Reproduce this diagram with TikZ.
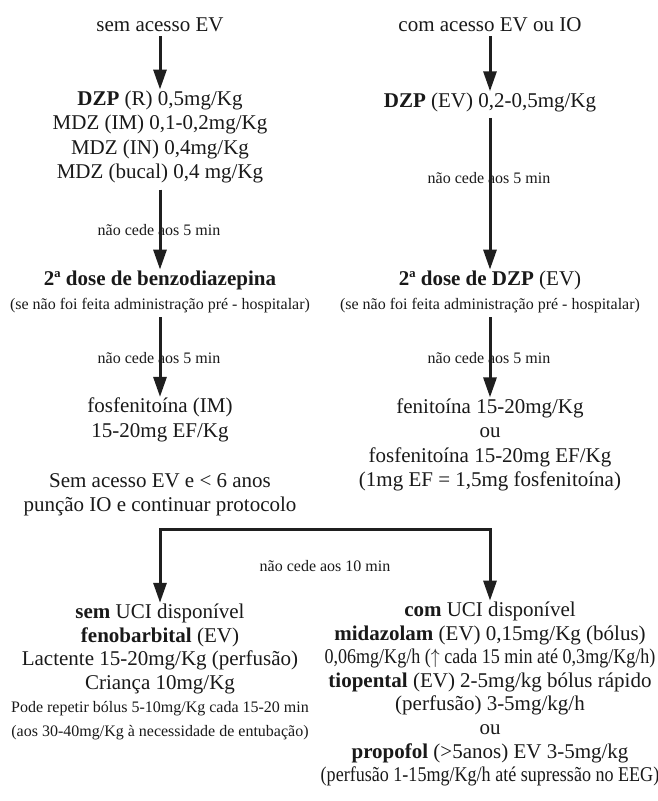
\documentclass[tikz,border=0pt]{standalone}
\usepackage{fontspec}
\setmainfont{Liberation Serif}
\usepackage{graphicx}
\usetikzlibrary{arrows.meta,positioning}

\newcommand{\nota}[1]{{\fontsize{16}{18}\selectfont #1}}
\newcommand{\aperta}[1]{\scalebox{0.86}[1]{#1}}

\begin{document}
\begin{tikzpicture}[
		x=1pt, y=-1pt,
		txt/.style={align=center, inner sep=1pt, text=black!90, font=\fontsize{21}{24.5}\selectfont},
		txtb/.style={txt, font=\fontsize{21}{23.6}\selectfont},
		lbl/.style={inner sep=0pt, text=black!90, font=\fontsize{16}{18}\selectfont},
		arrow/.style={-{Triangle[length=20pt,width=13pt]}, line width=3pt, draw=black!88}
	]
		\useasboundingbox (0,0) rectangle (658,801);
		% ramo sem acesso
		\node[txt] (semEV) at (160,25) {sem acesso EV};
		\node[txt] (bzdL) at (160,137) {\textbf{DZP} (R) 0,5mg/Kg\\MDZ (IM) 0,1-0,2mg/Kg\\MDZ (IN) 0,4mg/Kg\\MDZ (bucal) 0,4 mg/Kg};
		\node[txt] (dose2L) at (160,292) {\textbf{2ª dose de benzodiazepina}\\\nota{(se não foi feita administração pré - hospitalar)}};
		\node[txt] (fosL) at (160,420) {fosfenitoína (IM)\\15-20mg EF/Kg};
		\node[txtb] (ioL) at (160,495) {Sem acesso EV e < 6 anos\\punção IO e continuar protocolo};
		% ramo com acesso
		\node[txt] (comEV) at (490,25) {com acesso EV ou IO};
		\node[txt] (dzpEV) at (490,102) {\textbf{DZP} (EV) 0,2-0,5mg/Kg};
		\node[txt] (dose2R) at (490,292) {\textbf{2ª dose de DZP} (EV)\\\nota{(se não foi feita administração pré - hospitalar)}};
		\node[txt] (feniR) at (490,445) {fenitoína 15-20mg/Kg\\ou\\fosfenitoína 15-20mg EF/Kg\\(1mg EF = 1,5mg fosfenitoína)};
		% UCI
		\node[txtb] (semUCI) at (160,672) {\textbf{sem} UCI disponível\\\textbf{fenobarbital} (EV)\\Lactente 15-20mg/Kg (perfusão)\\Criança 10mg/Kg\\\nota{Pode repetir bólus 5-10mg/Kg cada 15-20 min}\\\nota{(aos 30-40mg/Kg à necessidade de entubação)}};
		\node[txtb] (comUCI) at (490,694) {\textbf{com} UCI disponível\\\textbf{midazolam} (EV) 0,15mg/Kg (bólus)\\\aperta{0,06mg/Kg/h ($\uparrow$ cada 15 min até 0,3mg/Kg/h)}\\\textbf{tiopental} (EV) 2-5mg/kg bólus rápido\\(perfusão) 3-5mg/kg/h\\ou\\\textbf{propofol} (>5anos) EV 3-5mg/kg\\\aperta{(perfusão 1-15mg/Kg/h até supressão no EEG)}};
		% legendas
		\node[lbl] (cedeL1) at (159,230) {não cede aos 5 min};
		\node[lbl] (cedeR1) at (489,178) {não cede aos 5 min};
		\node[lbl] (cedeL2) at (159,358) {não cede aos 5 min};
		\node[lbl] (cedeR2) at (489,358) {não cede aos 5 min};
		\node[lbl] (cede10) at (325,566) {não cede aos 10 min};
		\coordinate (split) at (325,529);
		% setas
		\draw[arrow, shorten <=3pt] (semEV) -- (bzdL);
		\draw[arrow, shorten <=5pt] (bzdL) -- (dose2L);
		\draw[arrow, shorten <=3pt] (dose2L) -- (fosL);
		\draw[arrow, shorten <=3pt] (comEV) -- (dzpEV);
		\draw[arrow, shorten <=5pt] (dzpEV) -- (dose2R);
		\draw[arrow, shorten <=3pt] (dose2R) -- (feniR);
		\draw[arrow] (split) -| (semUCI);
		\draw[arrow] (split) -| (comUCI);
	\end{tikzpicture}
\end{document}
